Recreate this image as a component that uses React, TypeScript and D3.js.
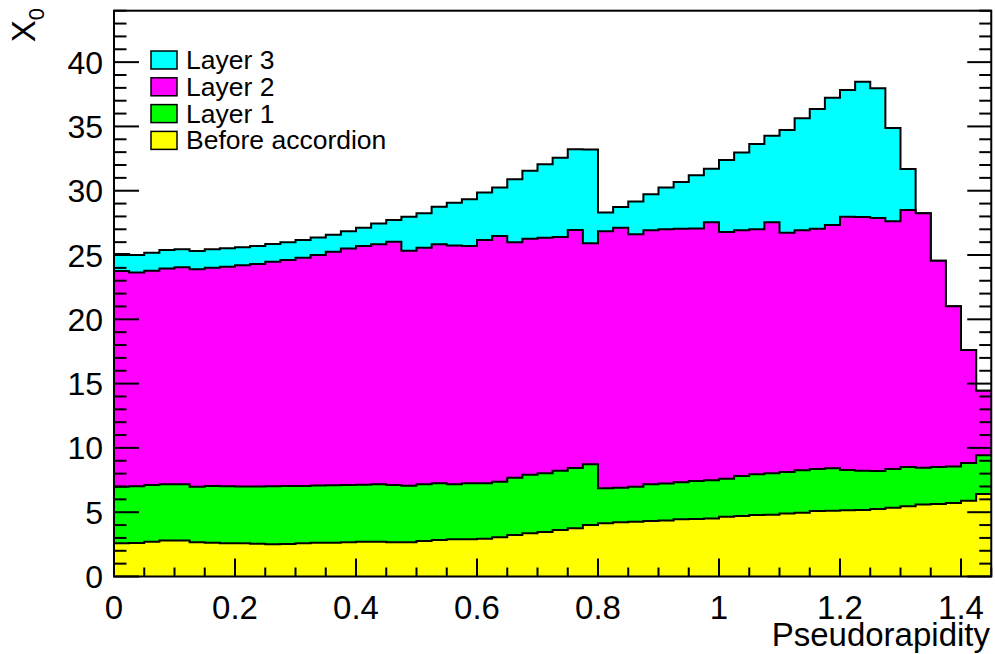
import React from "react";
import * as d3 from "d3";

// ---- data (per-layer contributions, X0) ----
const binWidth = 0.025;
const etaMax = 1.45;
const yMax = 44;

const beforeAccordion = [
  2.58, 2.60, 2.71, 2.79, 2.79, 2.66, 2.63, 2.58, 2.58, 2.55,
  2.50, 2.53, 2.58, 2.63, 2.63, 2.66, 2.71, 2.71, 2.66, 2.66,
  2.76, 2.84, 2.89, 2.89, 2.94, 3.05, 3.23, 3.36, 3.46, 3.62,
  3.75, 4.00, 4.14, 4.21, 4.26, 4.32, 4.36, 4.45, 4.47, 4.52,
  4.65, 4.70, 4.78, 4.81, 4.89, 4.96, 5.09, 5.12, 5.15, 5.17,
  5.25, 5.35, 5.46, 5.59, 5.64, 5.72, 5.90, 6.42,
];
const layer1 = [
  4.40, 4.42, 4.41, 4.38, 4.38, 4.32, 4.41, 4.44, 4.42, 4.45,
  4.52, 4.51, 4.46, 4.44, 4.46, 4.46, 4.43, 4.46, 4.45, 4.40,
  4.41, 4.41, 4.28, 4.36, 4.31, 4.32, 4.45, 4.56, 4.56, 4.61,
  4.69, 4.72, 2.72, 2.70, 2.72, 2.85, 2.88, 2.87, 2.96, 2.96,
  2.96, 3.11, 3.17, 3.21, 3.24, 3.30, 3.27, 3.29, 3.13, 3.06,
  2.95, 3.01, 3.06, 2.87, 2.88, 2.84, 2.93, 3.00,
];
const layer2 = [
  16.78, 16.63, 16.66, 16.79, 16.87, 16.91, 16.97, 17.07, 17.20, 17.30,
  17.46, 17.57, 17.75, 17.93, 18.17, 18.38, 18.56, 18.66, 18.93, 18.28,
  18.40, 18.58, 18.58, 18.45, 18.92, 19.11, 18.31, 18.35, 18.32, 18.17,
  18.50, 17.19, 19.98, 20.21, 19.63, 19.75, 19.76, 19.73, 19.64, 20.06,
  19.18, 19.11, 19.05, 19.52, 18.61, 18.66, 18.69, 18.92, 19.70, 19.73,
  19.68, 19.26, 19.98, 19.78, 16.04, 12.45, 8.78, 5.03,
];
const layer3 = [
  1.32, 1.35, 1.40, 1.43, 1.40, 1.42, 1.43, 1.43, 1.40, 1.40,
  1.38, 1.38, 1.38, 1.37, 1.32, 1.35, 1.43, 1.63, 1.68, 2.64,
  2.67, 2.93, 3.32, 3.63, 3.70, 3.78, 4.90, 5.29, 5.71, 6.17,
  6.28, 7.29, 1.46, 1.61, 2.56, 2.80, 3.26, 3.63, 4.13, 4.17,
  5.60, 6.06, 6.63, 6.74, 7.98, 8.71, 9.30, 9.90, 9.85, 10.52,
  10.08, 7.26, 3.19, 0, 0, 0, 0, 0,
];

const layerKeys = ["before", "layer1", "layer2", "layer3"];
const layerColors = ["#ffff00", "#00ff00", "#ff00ff", "#00ffff"];
const legendLabels = ["Layer 3", "Layer 2", "Layer 1", "Before accordion"];
const legendColors = ["#00ffff", "#ff00ff", "#00ff00", "#ffff00"];

const xTickValues = [0, 0.2, 0.4, 0.6, 0.8, 1, 1.2, 1.4];
const yTickValues = [0, 5, 10, 15, 20, 25, 30, 35, 40];

const W = 995;
const H = 654;
const FONT = "'Liberation Sans', Arial, Helvetica, sans-serif";

export default function App() {
  const x = d3.scaleLinear().domain([0, etaMax]).range([114, 991.25]);
  const y = d3.scaleLinear().domain([0, yMax]).range([576.5, 10.7]);

  const rows = beforeAccordion.map((v, i) => ({
    before: v,
    layer1: layer1[i],
    layer2: layer2[i],
    layer3: layer3[i],
  }));
  const stack = d3.stack<any>().keys(layerKeys);
  const series = stack(rows);

  const stepPoints = (s: any) => {
    const pts: [number, number][] = [];
    s.forEach((d: any, i: number) => {
      pts.push([x(i * binWidth), y(d[1])]);
      pts.push([x((i + 1) * binWidth), y(d[1])]);
    });
    return pts;
  };

  const line = d3.line();
  const y0 = y(0);

  // draw from top-most cumulative down, each filled from zero
  const order = [3, 2, 1, 0];

  const minorX = d3.range(0, etaMax + 1e-9, 0.05);
  const minorY = d3.range(0, yMax + 1e-9, 1);

  const [xl, xr] = x.range();
  const yb = y(0);
  const yt = y(yMax);

  return (
    <svg
      width={W}
      height={H}
      style={{ position: "absolute", left: 0, top: 0, background: "#fff" }}
      fontFamily={FONT}
    >
      <rect x={0} y={0} width={W} height={H} fill="#fff" />
      {order.map((k) => {
        const pts = stepPoints(series[k]);
        const area: [number, number][] = [[xl, y0], ...pts, [xr, y0]];
        return (
          <g key={k}>
            <path d={line(area) + "Z"} fill={layerColors[k]} stroke="none" />
            <path d={line([[xl, y0], ...pts]) as string} fill="none" stroke="#000" strokeWidth={2} />
          </g>
        );
      })}

      {/* ticks */}
      <g stroke="#000" strokeWidth={2}>
        {minorY.map((v) => {
          const major = Math.abs(v % 5) < 1e-9;
          const len = major ? 25 : 12.5;
          return (
            <g key={"y" + v}>
              <line x1={xl} x2={xl + len} y1={y(v)} y2={y(v)} />
              <line x1={xr} x2={xr - (major ? 24 : 12)} y1={y(v)} y2={y(v)} />
            </g>
          );
        })}
        {minorX.map((v) => {
          const major = Math.abs(v / 0.2 - Math.round(v / 0.2)) < 1e-6;
          const len = major ? 18 : 9;
          return <line key={"x" + v} x1={x(v)} x2={x(v)} y1={yb} y2={yb - len} />;
        })}
      </g>

      {/* frame */}
      <rect x={xl} y={yt} width={xr - xl} height={yb - yt} fill="none" stroke="#000" strokeWidth={2} />

      {/* y tick labels */}
      <g fontSize={32} textAnchor="end" fill="#000">
        {yTickValues.map((v) => (
          <text key={v} x={103} y={y(v) + 11.5}>
            {v}
          </text>
        ))}
      </g>
      {/* x tick labels */}
      <g fontSize={33} textAnchor="middle" fill="#000">
        {xTickValues.map((v) => (
          <text key={v} x={x(v)} y={619}>
            {String(v)}
          </text>
        ))}
      </g>

      {/* axis titles */}
      <text x={990} y={646} fontSize={33} textAnchor="end">
        Pseudorapidity
      </text>
      <text transform="translate(35,8) rotate(-90)" fontSize={33} textAnchor="end">
        X<tspan dy={9} fontSize={22}>0</tspan>
      </text>

      {/* legend */}
      <g>
        {legendLabels.map((lab, i) => {
          const cy = 60 + i * 26.8;
          return (
            <g key={lab}>
              <rect x={151} y={cy - 9} width={26} height={18} fill={legendColors[i]} stroke="#000" strokeWidth={1.5} />
              <text x={186} y={cy + 9} fontSize={26.5}>
                {lab}
              </text>
            </g>
          );
        })}
      </g>
    </svg>
  );
}
